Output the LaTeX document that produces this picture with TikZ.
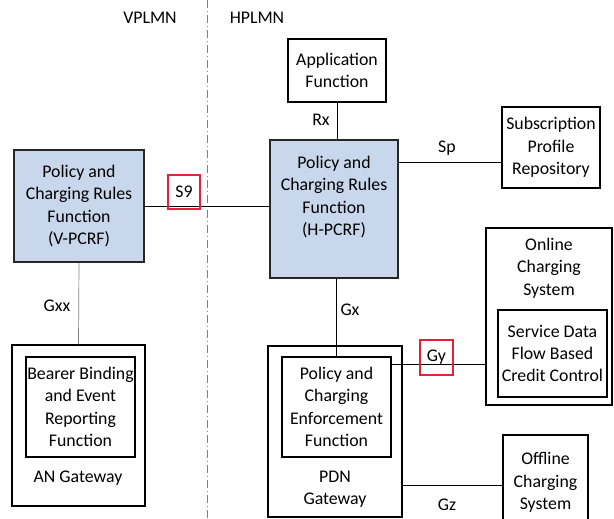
\documentclass[tikz,border=0pt]{standalone}
\usepackage{fontspec}
\setmainfont{Carlito}
\definecolor{pcrfblue}{RGB}{200,215,235}
\definecolor{tagred}{RGB}{228,32,60}
\begin{document}
\begin{tikzpicture}[x=1pt, y=-1pt,
    every node/.style={font=\fontsize{17.8}{22.3}\selectfont},
    box/.style={draw, line width=1.1pt, align=center, inner sep=0pt},
    pcrf/.style={box, fill=pcrfblue, draw=black!85, line width=1.8pt},
    iface/.style={line width=0.7pt},
    tag/.style={draw=tagred, line width=1.2pt, minimum width=32pt, minimum height=34pt, inner sep=0pt}]

    % -- Cornice della figura --
    \clip (0,0) rectangle (614,519);

    % -- Confine tra le due reti --
    \draw[gray, line width=0.7pt, dash pattern=on 8pt off 3pt on 1pt off 3pt] (207,0) -- (207,519);
    \node (vplmn) at (150,18) {VPLMN};
    \node (hplmn) at (257,18) {HPLMN};

    % -- Rete visitata (VPLMN) --
    \node[pcrf, minimum width=130pt, minimum height=112pt] (vpcrf) at (79,206)
        {Policy and\\Charging Rules\\Function\\(V-PCRF)};
    \node[box, minimum width=133pt, minimum height=161pt] (angw) at (78.5,425.5) {};
    \node[box, minimum width=109pt, minimum height=100pt] (bberf) at (80.5,407)
        {Bearer Binding\\and Event\\Reporting\\Function};
    \node (angwtxt) at (78,478) {AN Gateway};

    % -- Rete di casa (HPLMN) --
    \node[box, minimum width=98pt, minimum height=63pt] (af) at (337,70.5)
        {Application\\Function};
    \node[pcrf, minimum width=128pt, minimum height=138pt] (hpcrf) at (334,209) {};
    \node[align=center] (hpcrftxt) at (334,197)
        {Policy and\\Charging Rules\\Function\\(H-PCRF)};
    \node[box, minimum width=98pt, minimum height=81pt] (spr) at (551,147.5)
        {Subscription\\Profile\\Repository};
    \node[box, minimum width=134pt, minimum height=171pt] (pdngw) at (335,431.5) {};
    \node[box, minimum width=109pt, minimum height=100pt] (pcef) at (336.5,407)
        {Policy and\\Charging\\Enforcement\\Function};
    \node[align=center] (pdntxt) at (335,489) {PDN\\Gateway};
    \node[box, minimum width=126pt, minimum height=177pt] (ocs) at (549,316.5) {};
    \node[align=center] (ocstxt) at (549,268) {Online\\Charging\\System};
    \node[box, minimum width=109pt, minimum height=87pt] (sdf) at (552.5,353.5)
        {Service Data\\Flow Based\\Credit Control};
    \node[box, minimum width=85pt, minimum height=95pt] (ofcs) at (545.5,482.5)
        {Offline\\Charging\\System};

    % -- Interfacce --
    \draw[iface] (af.south) -- (af.south |- hpcrf.north);
    \draw[iface] (hpcrf.east |- 0,162) -- (spr.west |- 0,162);
    \draw[iface] (vpcrf.east) -- (vpcrf.east -| hpcrf.west);
    \draw[iface, gray] (vpcrf.south) -- (angw.north);
    \draw[iface] (pcef.north) -- (pcef.north |- hpcrf.south);
    \draw[iface] (pcef.east |- 0,364) -- (ocs.west |- 0,364);
    \draw[iface] (pdngw.east |- 0,485) -- (ofcs.west |- 0,485);

    % Etichette delle interfacce
    \node (rx) at (321,120) {Rx};
    \node (sp) at (447,148) {Sp};
    \node[tag] (s9) at (184,192) {S9};
    \node (gxx) at (57,306) {Gxx};
    \node (gx) at (350,310) {Gx};
    \node[tag, minimum width=33pt, minimum height=35pt] (gy) at (436.5,357.5) {Gy};
    \node (gz) at (447,505) {Gz};

\end{tikzpicture}
\end{document}
